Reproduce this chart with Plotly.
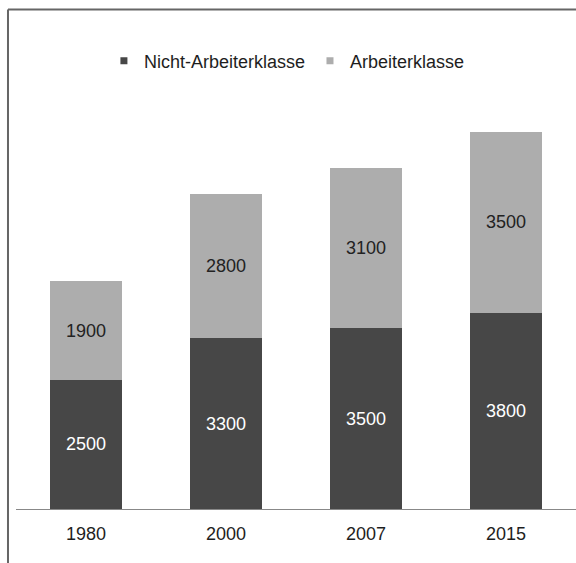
import plotly.graph_objects as go

years = ["1980", "2000", "2007", "2015"]
nicht_arbeiter = [2500, 3300, 3500, 3800]
arbeiter = [1900, 2800, 3100, 3500]
series_names = ["Nicht-Arbeiterklasse", "Arbeiterklasse"]

FONT = "Liberation Sans, Arial, Helvetica, sans-serif"
DARK = "#474747"
LIGHT = "#adadad"
FS = 18

fig = go.Figure()
fig.add_trace(go.Bar(
    x=years, y=nicht_arbeiter, name=series_names[0], showlegend=False,
    legendgroup="n",
    marker=dict(color=DARK, line=dict(width=0)),
    text=[str(v) for v in nicht_arbeiter], textposition="inside",
    insidetextanchor="middle", textangle=0,
    textfont=dict(color="white", size=FS, family=FONT),
))
fig.add_trace(go.Bar(
    x=years, y=arbeiter, name=series_names[1], showlegend=False,
    legendgroup="a",
    marker=dict(color=LIGHT, line=dict(width=0)),
    text=[str(v) for v in arbeiter], textposition="inside",
    insidetextanchor="middle", textangle=0,
    textfont=dict(color="#222222", size=FS, family=FONT),
))
# legend entries with small square markers
for nm, col, grp in [(series_names[0], DARK, "n"), (series_names[1], LIGHT, "a")]:
    fig.add_trace(go.Scatter(
        x=[None], y=[None], mode="markers", name=nm, legendgroup=grp,
        marker=dict(symbol="square", size=7, color=col), showlegend=True,
    ))

fig.update_layout(
    width=576, height=563,
    barmode="stack", bargap=0.486,
    paper_bgcolor="white", plot_bgcolor="white",
    margin=dict(l=16, r=0, t=100, b=54),
    font=dict(family=FONT, size=FS, color="#1e1e1e"),
    showlegend=True,
    legend=dict(orientation="h", x=0.157, xanchor="left", y=1.095, yanchor="middle",
                font=dict(size=FS, color="#1e1e1e"), itemwidth=30,
                traceorder="normal", bgcolor="rgba(0,0,0,0)"),
    xaxis=dict(showline=True, linecolor="#888888", linewidth=1, ticks="",
               showgrid=False, ticklabelstandoff=8,
               tickfont=dict(size=FS, color="#1e1e1e")),
    yaxis=dict(range=[0, 7910], visible=False, showgrid=False),
    shapes=[
        dict(type="line", xref="paper", yref="paper", x0=-0.0143, x1=-0.0143,
             y0=1.2213, y1=-0.3, line=dict(color="#666666", width=2)),
        dict(type="line", xref="paper", yref="paper", x0=-0.0143, x1=1.05,
             y0=1.2213, y1=1.2213, line=dict(color="#666666", width=2)),
    ],
)

fig.write_html("out.html")
